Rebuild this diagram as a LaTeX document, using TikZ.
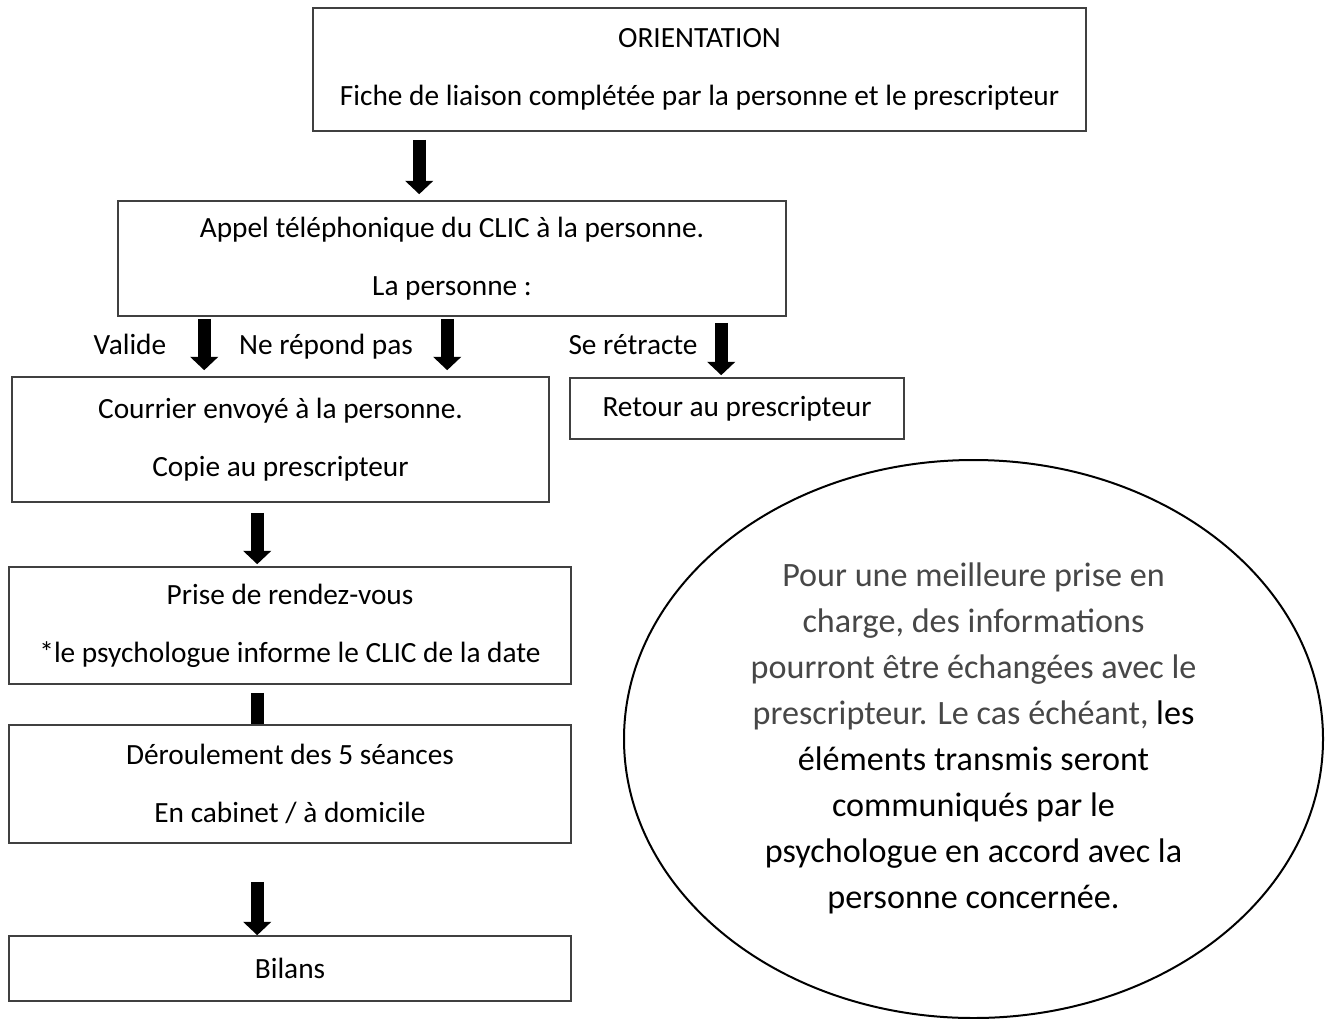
\documentclass[tikz,border=0pt]{standalone}
\usepackage{fontspec}
\setmainfont{Carlito}
\usetikzlibrary{arrows.meta,calc,shapes.geometric}
\begin{document}
\begin{tikzpicture}[x=0.75pt,y=-0.75pt,
  box/.style={draw=black!75,line width=1.2pt,fill=white,inner sep=0pt,align=center,
    font=\fontsize{22}{43.5}\selectfont},
  lbl/.style={font=\fontsize{22}{26}\selectfont,inner sep=0pt,anchor=base},
  blk/.style={line width=9.5pt,-{Triangle[width=20.5pt,length=10pt]}},
  bar/.style={line width=9.5pt}]
\useasboundingbox (0,0) rectangle (1327,1018);
\fill[white] (0,0) rectangle (1327,1018);
% ellipse
\node[ellipse,draw=black,line width=1.5pt,minimum width={699*0.75pt},minimum height={558*0.75pt},inner sep=0pt] (E) at (973.5,739) {};
\node[align=center,font=\fontsize{25.6}{34.5}\selectfont,inner sep=0pt] (ET) at (973.5,738)
 {\color{black!72}Pour une meilleure prise en\\
  \color{black!72}charge, des informations\\
  \color{black!72}pourront être échangées avec le\\
  \color{black!72}prescripteur. Le cas échéant, \color{black}les\\
  éléments transmis seront\\
  communiqués par le\\
  psychologue en accord avec la\\
  personne concernée.};
% boxes
\node[box,minimum width={773*0.75pt},minimum height={123*0.75pt}] (O) at (699.5,69.5)
 {ORIENTATION\\Fiche de liaison complétée par la personne et le prescripteur};
\node[box,minimum width={668*0.75pt},minimum height={115*0.75pt}] (A) at (452,258.5)
 {Appel téléphonique du CLIC à la personne.\\La personne :};
\node[box,minimum width={537*0.75pt},minimum height={125*0.75pt}] (C) at (280.5,439.5)
 {Courrier envoyé à la personne.\\Copie au prescripteur};
\node[box,minimum width={334*0.75pt},minimum height={61*0.75pt}] (R) at (737,408.5)
 {Retour au prescripteur};
\node[box,minimum width={562*0.75pt},minimum height={117*0.75pt}] (P) at (290,625.5)
 {Prise de rendez-vous\\*le psychologue informe le CLIC de la date};
\node[box,minimum width={562*0.75pt},minimum height={118*0.75pt}] (D) at (290,784)
 {Déroulement des 5 séances\\En cabinet / à domicile};
\node[box,minimum width={562*0.75pt},minimum height={65*0.75pt}] (B) at (290,968.5)
 {Bilans};
% labels
\node[lbl] (l1) at (130,354) {Valide};
\node[lbl] (l2) at (326,354) {Ne répond pas};
\node[lbl] (l3) at (633,354) {Se rétracte};
% arrows
\draw[blk] ($(O.south west)+(107,8)$) -- ($(A.north west)+(302,-6)$);
\draw[blk] ($(A.south west)+(87,2)$) -- ($(C.north west)+(193,-6)$);
\draw[blk] ($(A.south west)+(330,2)$) -- ($(C.north west)+(436,-6)$);
\draw[blk] ($(A.south west)+(604,6)$) -- ($(R.north west)+(152,-2)$);
\draw[blk] ($(C.south west)+(246,10)$) -- ($(P.north west)+(249,-2)$);
\draw[bar] ($(P.south west)+(249,8)$) -- ($(D.north west)+(249,0)$);
\draw[blk] ($(D.south west)+(249,38)$) -- ($(B.north west)+(249,0)$);
\end{tikzpicture}
\end{document}
